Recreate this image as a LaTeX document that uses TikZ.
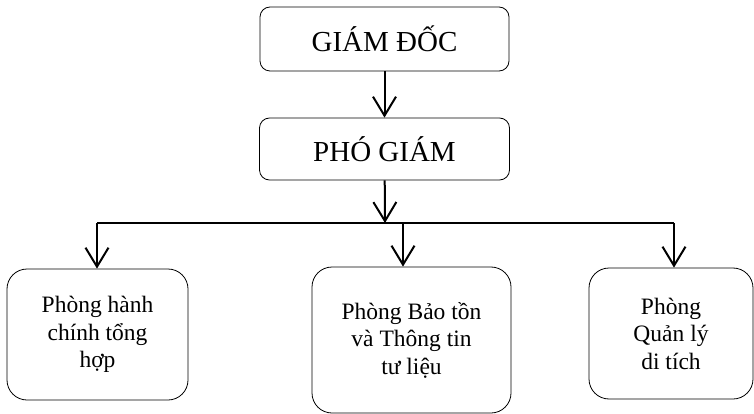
\documentclass[tikz,border=0pt]{standalone}
\usepackage{fontspec}
\setmainfont{Liberation Serif}
\usetikzlibrary{arrows.meta}
\begin{document}
\begin{tikzpicture}[x=1pt, y=-1pt,
    unitbox/.style={draw, rounded corners=12pt, line width=.8pt, align=center, inner sep=0pt},
    down/.style={line width=2pt, -{Straight Barb[length=19pt, width=23pt, line width=2pt]}}]
        \useasboundingbox (0,0) rectangle (754,414);

        \node[unitbox, rounded corners=10pt, minimum width=249pt, minimum height=64pt, font=\fontsize{29}{34}\selectfont] (gd) at (384.5, 39) {GIÁM ĐỐC};
        \node[unitbox, rounded corners=10pt, minimum width=250pt, minimum height=62pt, font=\fontsize{29}{34}\selectfont] (pgd) at (384.5, 149) {PHÓ GIÁM};

        \node[unitbox, rounded corners=20pt, minimum width=181pt, minimum height=131pt, font=\fontsize{23.5}{27.5}\selectfont] (hc) at (97.5, 334.5) {Phòng hành\\chính tổng\\hợp};
        \node[unitbox, rounded corners=20pt, minimum width=199pt, minimum height=146pt, font=\fontsize{23.5}{27.5}\selectfont] (bt) at (411.5, 340) {Phòng Bảo tồn\\và Thông tin\\tư liệu};
        \node[unitbox, rounded corners=20pt, minimum width=164pt, minimum height=131pt, font=\fontsize{23.5}{27.5}\selectfont] (ql) at (671, 333.5) {Phòng\\Quản lý\\di tích};

        \coordinate (bus) at (385, 223);
        \coordinate (busL) at (97, 223);
        \coordinate (busM) at (403, 223);
        \coordinate (busR) at (674, 223);

        \draw[down] (gd) -- (pgd);
        \draw[down] (pgd) -- (bus);
        \draw[line width=2pt] (busL) -- (busR);

        \draw[down] (busL) -- (busL |- hc.north);
        \draw[down] (busM) -- (busM |- bt.north);
        \draw[down] (busR) -- (busR |- ql.north);
    \end{tikzpicture}
\end{document}
